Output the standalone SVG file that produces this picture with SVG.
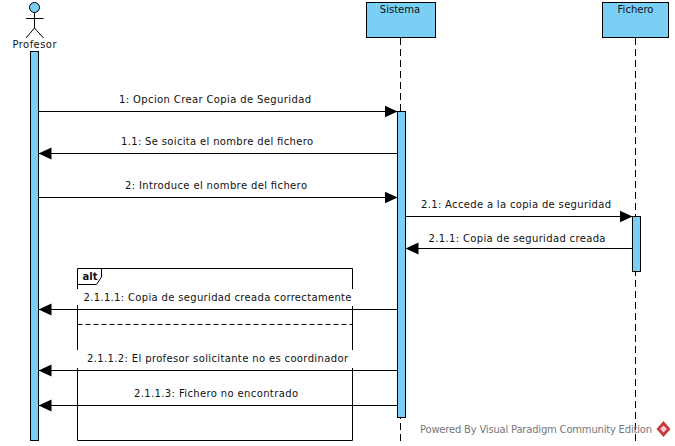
<svg xmlns="http://www.w3.org/2000/svg" width="675" height="446" viewBox="0 0 675 446">
<style>
text{font-family:"DejaVu Sans","Liberation Sans",sans-serif;font-size:10px;fill:#111;text-anchor:middle}
.box{fill:#7ACFF5;stroke:#000;stroke-width:1}
.life{stroke:#000;stroke-width:1;stroke-dasharray:7 4;fill:none}
.line{stroke:#000;stroke-width:1;fill:none}
.mask{fill:#fff}
</style>
<defs>
<marker id="arr" markerUnits="userSpaceOnUse" markerWidth="14" markerHeight="14" refX="13" refY="7" orient="auto-start-reverse"><path d="M0 1L13 7L0 13Z" fill="#000"/></marker>
</defs>
<rect width="675" height="446" fill="#fff"/>
<g id="lifelines">
<path class="life" d="M400.500 38V441"/>
<path class="life" d="M635.500 38V441"/>
</g>
<g id="watermark">
<text x="536" y="433" textLength="232" style="font-size:10px;fill:#77777b">Powered By Visual Paradigm Community Edition</text>
<path d="M663.500 421L670.500 429L663.500 437L656.500 429Z" fill="#c8383c"/>
<path d="M663.500 425.500L667 429L663.500 432.500L660 429Z" fill="#f3d0d0"/>
</g>
<g id="alt">
<path class="line" d="M77.500 268.500H352.500V440.500H77.500Z"/>
<path class="line" d="M77.500 284.500H96.500L101.500 277V268.500"/>
<text x="90" y="279.500" style="font-weight:bold;font-size:10px">alt</text>
<path class="line" stroke-dasharray="5 3" d="M77.500 324.500H352.500"/>
</g>
<g id="Profesor">
<circle class="box" cx="34.500" cy="7.500" r="5"/>
<path class="line" d="M34.500 12.500V28M26 18.500H43.500M26 38L34.500 28L43.500 38"/>
<text x="34.500" y="48" textLength="44">Profesor</text>
<rect class="box" x="30.500" y="51.500" width="8" height="389"/>
</g>
<g id="Sistema">
<rect class="box" x="366.500" y="2.500" width="69" height="35"/>
<text x="400" y="13">Sistema</text>
<rect class="box" x="397.500" y="111.500" width="8" height="306"/>
</g>
<g id="Fichero">
<rect class="box" x="602.500" y="2.500" width="66" height="35"/>
<text x="635.500" y="13">Fichero</text>
<rect class="box" x="632.500" y="216.500" width="8" height="55"/>
</g>
<g id="connectors">
<path class="line" marker-end="url(#arr)" d="M38.500 111.500H397.500"/>
<path class="line" marker-end="url(#arr)" d="M397.500 153.500H38.500"/>
<path class="line" marker-end="url(#arr)" d="M38.500 197.500H397.500"/>
<path class="line" marker-end="url(#arr)" d="M405.500 216.500H632.500"/>
<path class="line" marker-end="url(#arr)" d="M632.500 248.500H405.500"/>
<path class="line" marker-end="url(#arr)" d="M397.500 309.500H38.500"/>
<path class="line" marker-end="url(#arr)" d="M397.500 370.500H38.500"/>
<path class="line" marker-end="url(#arr)" d="M397.500 405.500H38.500"/>
</g>
<g id="labels">
<rect class="mask" x="78" y="289" width="275" height="17"/>
<rect class="mask" x="78" y="350" width="275" height="18"/>
<rect class="mask" x="77" y="289" width="1" height="16"/>
<rect class="mask" x="77" y="350" width="1" height="18"/>
<text x="215" y="103" textLength="192">1: Opcion Crear Copia de Seguridad</text>
<text x="217" y="145" textLength="192">1.1: Se soicita el nombre del fichero</text>
<text x="216" y="189" textLength="182">2: Introduce el nombre del fichero</text>
<text x="516" y="208" textLength="190">2.1: Accede a la copia de seguridad</text>
<text x="517" y="242" textLength="177">2.1.1: Copia de seguridad creada</text>
<text x="217.500" y="301" textLength="268">2.1.1.1: Copia de seguridad creada correctamente</text>
<text x="217.500" y="362" textLength="261">2.1.1.2: El profesor solicitante no es coordinador</text>
<text x="216" y="397" textLength="164">2.1.1.3: Fichero no encontrado</text>
</g>
</svg>
